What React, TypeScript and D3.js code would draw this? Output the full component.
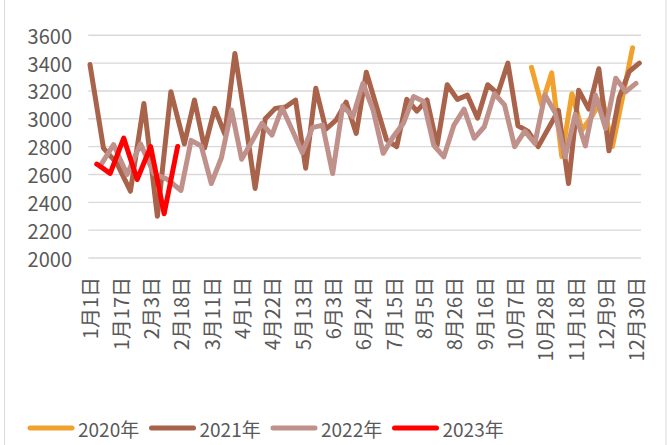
import React from 'react';
import * as d3 from 'd3';

// ---- data ----
// Category axis = union of the weekly (Friday) report dates of every year, shown as month/day.
const axisRunFirst = ['2020-01-03', '2021-01-01', '2022-01-07', '2023-01-06'];
const axisRunWeeks = [52, 53, 52, 7];
const tickEvery = 9;

const seriesNames = ['2020年', '2021年', '2022年', '2023年'];
const seriesFirst = ['2020-10-16', '2021-01-01', '2022-01-07', '2023-01-06'];
const seriesColors = ['#F0A12E', '#A8634A', '#C0908A', '#FF0000'];

const values2020 = [3370, 3100, 3330, 2730, 3180, 2920, 3020, 3150, 2800, 3150, 3510];
const values2021 = [3390, 2790, 2680, 2480, 3110, 2300, 3195, 2820, 3135, 2790, 3075, 2890, 3470, 3000,
  2500, 3000, 3075, 3085, 3135, 2645, 3220, 2925, 2990, 3120, 2895, 3335, 3090, 2850, 2800, 3140, 3055,
  3135, 2810, 3245, 3140, 3170, 3005, 3245, 3180, 3400, 2950, 2910, 2800, 2930, 3060, 2535, 3205, 3070,
  3360, 2770, 3150, 3340, 3400];
const values2022 = [2660, 2815, 2600, 2820, 2605, 2565, 2485, 2845, 2805, 2535, 2720, 3063, 2710, 2835,
  2967, 2883, 3080, 2920, 2757, 2937, 2955, 2607, 3093, 3015, 3255, 3064, 2752, 2872, 2968, 3160, 3125,
  2810, 2727, 2955, 3070, 2860, 2943, 3180, 3100, 2800, 2912, 2823, 3171, 3045, 2727, 3033, 2805, 3171,
  2931, 3291, 3195, 3255];
const values2023 = [2675, 2608, 2862, 2564, 2801, 2318, 2801];
const seriesValues = [values2020, values2021, values2022, values2023];

const yTicks = [2000, 2200, 2400, 2600, 2800, 3000, 3200, 3400, 3600];

// ---- helpers ----
function weekDates(first: string, n: number) {
  const [y, m, d] = first.split('-').map(Number);
  const out: Date[] = [];
  for (let i = 0; i < n; i++) out.push(new Date(Date.UTC(y, m - 1, d + 7 * i)));
  return out;
}
const mdKey = (dt: Date) => (dt.getUTCMonth() + 1) * 100 + dt.getUTCDate();

const allKeys = Array.from(
  new Set(axisRunFirst.flatMap((f, i) => weekDates(f, axisRunWeeks[i]).map(mdKey)))
).sort((a, b) => a - b);
const keyIndex = new Map(allKeys.map((k, i) => [k, i]));

const W = 667, H = 445;
const plotLeft = 88.3, plotRight = 641, plotTop = 35.3, plotBottom = 258;
const font = '"Noto Sans CJK SC", "Noto Sans", sans-serif';
const textColor = '#595959';

export default function App() {
  const x = d3.scalePoint<number>().domain(allKeys.map((_, i) => i)).range([plotLeft, plotRight]).padding(0.5);
  const y = d3.scaleLinear().domain([2000, 3600]).range([plotBottom, plotTop]);
  const line = d3.line<[number, number]>().x(d => x(d[0]) as number).y(d => y(d[1]));

  const series = seriesValues.map((vals, s) => {
    const dates = weekDates(seriesFirst[s], vals.length);
    return vals.map((v, i) => [keyIndex.get(mdKey(dates[i])) as number, v] as [number, number]);
  });

  const ticks = allKeys.map((k, i) => ({ k, i })).filter(t => t.i % tickEvery === 0);

  const legendX0 = 28, legendStep = 121.5, legendY = 428;

  return (
    <svg width={W} height={H} style={{ position: 'absolute', left: 0, top: 0, background: '#fff' }}>
      <line x1={4.5} x2={4.5} y1={0} y2={H} stroke="#d9d9d9" strokeWidth={1} />
      <line x1={666} x2={666} y1={0} y2={H} stroke="#d9d9d9" strokeWidth={1} />
      {yTicks.map(t => (
        <g key={t}>
          <line x1={plotLeft} x2={plotRight} y1={y(t)} y2={y(t)} stroke="#d9d9d9" strokeWidth={1.4} />
          <text x={72} y={y(t)} textAnchor="end" dominantBaseline="central" fontFamily={font} fontSize={20} fill={textColor}>{t}</text>
        </g>
      ))}
      {ticks.map(t => (
        <text key={t.i} transform={`translate(${x(t.i)},${277}) rotate(-90)`} textAnchor="end" dominantBaseline="central"
          fontFamily={font} fontSize={20} fill={textColor}>
          {`${Math.floor(t.k / 100)}月${t.k % 100}日`}
        </text>
      ))}
      {series.map((pts, s) => (
        <path key={s} d={line(pts) || ''} fill="none" stroke={seriesColors[s]} strokeWidth={5}
          strokeLinejoin="round" strokeLinecap="round" />
      ))}
      {seriesNames.map((n, s) => (
        <g key={n} transform={`translate(${legendX0 + s * legendStep},${legendY})`}>
          <line x1={2} x2={44} y1={0} y2={0} stroke={seriesColors[s]} strokeWidth={5} strokeLinecap="round" />
          <text x={50} y={0} dominantBaseline="central" fontFamily={font} fontSize={19} fill={textColor}>{n}</text>
        </g>
      ))}
    </svg>
  );
}
